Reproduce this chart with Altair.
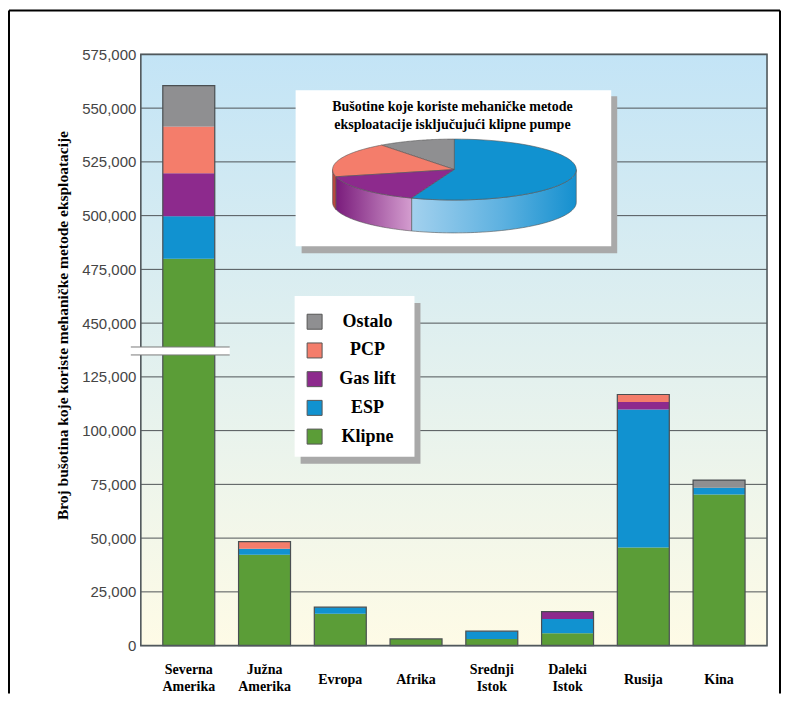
import altair as alt
import numpy as np
import pandas as pd

# ---------------- data ----------------
regions = ["Severna Amerika", "Južna Amerika", "Evropa", "Afrika",
           "Srednji Istok", "Daleki Istok", "Rusija", "Kina"]
klipne   = [480000, 42300, 14800, 3100, 3100, 5700, 45600, 70300]
esp      = [19700, 2800, 3100, 0, 3600, 6700, 64200, 3100]
gas_lift = [20000, 0, 0, 0, 0, 3400, 3500, 0]
pcp      = [21800, 3300, 0, 0, 0, 0, 3500, 0]
ostalo   = [19000, 0, 0, 0, 0, 0, 0, 3600]

methods = ["Klipne", "ESP", "Gas lift", "PCP", "Ostalo"]
legend_order = ["Ostalo", "PCP", "Gas lift", "ESP", "Klipne"]
legend_colors = ["#8f8f91", "#f47d6b", "#8d2a8d", "#1192d0", "#5b9d37"]

pie_labels = ["Ostalo", "PCP", "Gas lift", "ESP"]      # counter-clockwise from 12 o'clock
pie_shares = [10.2, 18.6, 15.5, 55.7]
pie_colors = ["#8f8f91", "#f47d6b", "#8d2a8d", "#1192d0"]

y_ticks = [0, 25000, 50000, 75000, 100000, 125000,
           450000, 475000, 500000, 525000, 550000, 575000]

y_title = "Broj bušotina koje koriste mehaničke metode eksploatacije"
pie_title = ["Bušotine koje koriste mehaničke metode",
             "eksploatacije isključujući klipne pumpe"]

# ---------------- broken axis transform ----------------
BREAK_LO = 137500
GAP = 300000
Y_MAX = 575000 - GAP


def brk(v):
    return v if v <= BREAK_LO else v - GAP


series = {"Klipne": klipne, "ESP": esp, "Gas lift": gas_lift, "PCP": pcp, "Ostalo": ostalo}
rows, tots = [], []
for i, r in enumerate(regions):
    cum = 0
    for m in methods:
        v = series[m][i]
        if v > 0:
            rows.append(dict(region=r, method=m, y0=brk(cum), y1=brk(cum + v)))
            cum += v
    tots.append(dict(region=r, base=0, top=brk(cum)))
bars_df = pd.DataFrame(rows)
tot_df = pd.DataFrame(tots)
grid_df = pd.DataFrame({"v": [brk(v) for v in y_ticks]})

W, H = 627, 592
SERIF = "Liberation Serif"
SANS = "Liberation Sans"

yscale = alt.Scale(domain=[0, Y_MAX], nice=False, zero=False)
xscale = alt.Scale(domain=regions, paddingInner=0.314, paddingOuter=0.29)
cscale = alt.Scale(domain=legend_order, range=legend_colors)

one = pd.DataFrame({"a": [0]})

bg = alt.Chart(one).mark_rect(
    fill=alt.LinearGradient(
        gradient="linear", x1=0, x2=0, y1=0, y2=1,
        stops=[alt.GradientStop(color="#c3e4f6", offset=0),
               alt.GradientStop(color="#e1f0ef", offset=0.5),
               alt.GradientStop(color="#fefbe6", offset=1)])
).encode(x=alt.value(0), x2=alt.value(W), y=alt.value(0), y2=alt.value(H))

grid = alt.Chart(grid_df).mark_rule(color="#4f5457", strokeWidth=1).encode(
    y=alt.Y("v:Q", scale=yscale, axis=None), x=alt.value(0), x2=alt.value(W))

label_expr = ("datum.value > %d ? format(datum.value + %d, ',') : format(datum.value, ',')"
              % (BREAK_LO, GAP))

bars = alt.Chart(bars_df).mark_bar(strokeWidth=0).encode(
    x=alt.X("region:N", sort=regions, scale=xscale,
            axis=alt.Axis(title=None, labelAngle=0, ticks=False, tickSize=0, domain=False,
                          labelExpr="split(datum.label, ' ')", labelFont=SERIF,
                          labelFontWeight="bold", labelFontSize=14, labelColor="black",
                          labelLineHeight=17, labelBaseline="top",
                          labelPadding={"condition": {"test": "indexof(datum.value, ' ') < 0",
                                                      "value": 27},
                                        "value": 17})),
    y=alt.Y("y0:Q", scale=yscale,
            axis=alt.Axis(values=[brk(v) for v in y_ticks], labelExpr=label_expr,
                          grid=False, ticks=False, tickSize=0, domain=False,
                          labelFont=SANS, labelFontSize=15, labelColor="#454545",
                          labelPadding=5, title=y_title, titleFont=SERIF,
                          titleFontWeight="bold", titleFontSize=15.5, titleColor="black",
                          titleX=-78.5, titleY=271, titleAngle=270,
                          titleAlign="center", titleBaseline="middle")),
    y2="y1:Q",
    color=alt.Color("method:N", scale=cscale, legend=None),
)

outline = alt.Chart(tot_df).mark_bar(fillOpacity=0, stroke="#4a4f52", strokeWidth=1.2).encode(
    x=alt.X("region:N", sort=regions, scale=xscale, axis=None),
    y=alt.Y("base:Q", scale=yscale, axis=None), y2="top:Q")

border = alt.Chart(one).mark_rect(fillOpacity=0, stroke="#50585c", strokeWidth=1.6).encode(
    x=alt.value(0), x2=alt.value(W), y=alt.value(0), y2=alt.value(H))

brk_df = pd.DataFrame({"lo": [135200], "hi": [138900]})
brk_rect = alt.Chart(brk_df).mark_rect(fill="white").encode(
    x=alt.value(-10), x2=alt.value(89),
    y=alt.Y("lo:Q", scale=yscale, axis=None), y2="hi:Q")
brk_l1 = alt.Chart(brk_df).mark_rule(color="#7a7a7a", strokeWidth=1).encode(
    x=alt.value(-10), x2=alt.value(89), y=alt.Y("lo:Q", scale=yscale, axis=None))
brk_l2 = alt.Chart(brk_df).mark_rule(color="#7a7a7a", strokeWidth=1).encode(
    x=alt.value(-10), x2=alt.value(89), y=alt.Y("hi:Q", scale=yscale, axis=None))

# ---------------- inset 3D pie ----------------
pie_box_sh = alt.Chart(one).mark_rect(fill="#a9a9a9").encode(
    x=alt.value(161), x2=alt.value(477), y=alt.value(42), y2=alt.value(199))
pie_box = alt.Chart(one).mark_rect(fill="white").encode(
    x=alt.value(155), x2=alt.value(471), y=alt.value(36), y2=alt.value(192))
pie_ttl = alt.Chart(one).mark_text(
    text=pie_title, font=SERIF, fontWeight="bold", fontSize=14, color="black",
    align="center", baseline="middle", lineHeight=18.3
).encode(x=alt.value(312), y=alt.value(52.7))

DEPTH = 1.08
px_scale = alt.Scale(domain=[-1, 1], range=[192, 436], nice=False, zero=False)
py_scale = alt.Scale(domain=[-1, 1], range=[145.8, 84.8], nice=False, zero=False)


def arc(a0, a1, n=60):
    return np.radians(np.linspace(a0, a1, n))


top_rows, angles = [], {}
start = 90.0
total_share = sum(pie_shares)
for lab, sh in zip(pie_labels, pie_shares):
    a0, a1 = start, start + sh / total_share * 360.0
    angles[lab] = (a0, a1)
    pts = [(0.0, 0.0)] + [(np.cos(t), np.sin(t)) for t in arc(a0, a1)] + [(0.0, 0.0)]
    for k, (x, y) in enumerate(pts):
        top_rows.append(dict(slice=lab, i=k, px=x, py=y))
    start = a1
top_df = pd.DataFrame(top_rows)

side_fill = {
    "PCP": "#b9473f",
    "Gas lift": alt.LinearGradient(gradient="linear", x1=0, x2=1, y1=0, y2=0,
                                   stops=[alt.GradientStop(color="#7a1c7c", offset=0),
                                          alt.GradientStop(color="#d49dcf", offset=1)]),
    "ESP": alt.LinearGradient(gradient="linear", x1=0, x2=1, y1=0, y2=0,
                              stops=[alt.GradientStop(color="#a3d1ee", offset=0),
                                     alt.GradientStop(color="#5db1e0", offset=0.55),
                                     alt.GradientStop(color="#1590cf", offset=1)]),
}

side_layers = []
for lab, (a0, a1) in angles.items():
    lo, hi = max(a0, 180.0), min(a1, 360.0)
    if hi <= lo:
        continue
    ts = arc(lo, hi)
    pts = [(np.cos(t), np.sin(t)) for t in ts] + \
          [(np.cos(t), np.sin(t) - DEPTH) for t in ts[::-1]]
    pts.append(pts[0])
    sdf = pd.DataFrame({"i": range(len(pts)), "px": [p[0] for p in pts],
                        "py": [p[1] for p in pts]})
    side_layers.append(
        alt.Chart(sdf).mark_line(fill=side_fill.get(lab, "#888"), stroke="#555",
                                 strokeWidth=0.6).encode(
            x=alt.X("px:Q", scale=px_scale, axis=None),
            y=alt.Y("py:Q", scale=py_scale, axis=None),
            order="i:Q"))

pie_top = alt.Chart(top_df).mark_line(stroke="#555", strokeWidth=0.6).encode(
    x=alt.X("px:Q", scale=px_scale, axis=None),
    y=alt.Y("py:Q", scale=py_scale, axis=None),
    fill=alt.Fill("slice:N", scale=alt.Scale(domain=pie_labels, range=pie_colors), legend=None),
    detail="slice:N",
    order="i:Q")

# ---------------- custom legend ----------------
leg_df = pd.DataFrame({"name": legend_order})
leg_yscale = alt.Scale(type="point", domain=legend_order, range=[267.7, 382.7], padding=0)
leg_sh = alt.Chart(one).mark_rect(fill="#a9a9a9").encode(
    x=alt.value(160), x2=alt.value(280), y=alt.value(249), y2=alt.value(410))
leg_box = alt.Chart(one).mark_rect(fill="white").encode(
    x=alt.value(154), x2=alt.value(274), y=alt.value(242), y2=alt.value(403))
leg_sq = alt.Chart(leg_df).mark_square(size=225, filled=True, opacity=1, stroke="#555",
                                       strokeWidth=1).encode(
    x=alt.value(174),
    y=alt.Y("name:N", sort=legend_order, scale=leg_yscale, axis=None),
    color=alt.Color("name:N", scale=cscale, legend=None))
leg_tx = alt.Chart(leg_df).mark_text(font=SERIF, fontWeight="bold", fontSize=18,
                                     color="black", align="center", baseline="middle").encode(
    x=alt.value(227),
    y=alt.Y("name:N", sort=legend_order, scale=leg_yscale, axis=None),
    text="name:N")

# ---------------- outer frame ----------------
fr_l = alt.Chart(one).mark_rule(color="black", strokeWidth=2).encode(
    x=alt.value(-132), y=alt.value(-44), y2=alt.value(H + 48))
fr_t = alt.Chart(one).mark_rule(color="black", strokeWidth=2).encode(
    x=alt.value(-132), x2=alt.value(640), y=alt.value(-44))
fr_r = alt.Chart(one).mark_rule(color="black", strokeWidth=2).encode(
    x=alt.value(640), y=alt.value(-44), y2=alt.value(H + 48))

chart = alt.layer(
    bg, grid, bars, outline, border, brk_rect, brk_l1, brk_l2,
    pie_box_sh, pie_box, pie_ttl, *side_layers, pie_top,
    leg_sh, leg_box, leg_sq, leg_tx,
    fr_l, fr_t, fr_r,
).resolve_scale(x="independent", y="independent").properties(
    width=W, height=H,
    autosize=alt.AutoSizeParams(type="none"),
    padding={"left": 133, "top": 46, "right": 15, "bottom": 48},
    background="white",
).configure_view(stroke=None)

chart.save("out.html", embed_options={"renderer": "svg", "actions": False})
